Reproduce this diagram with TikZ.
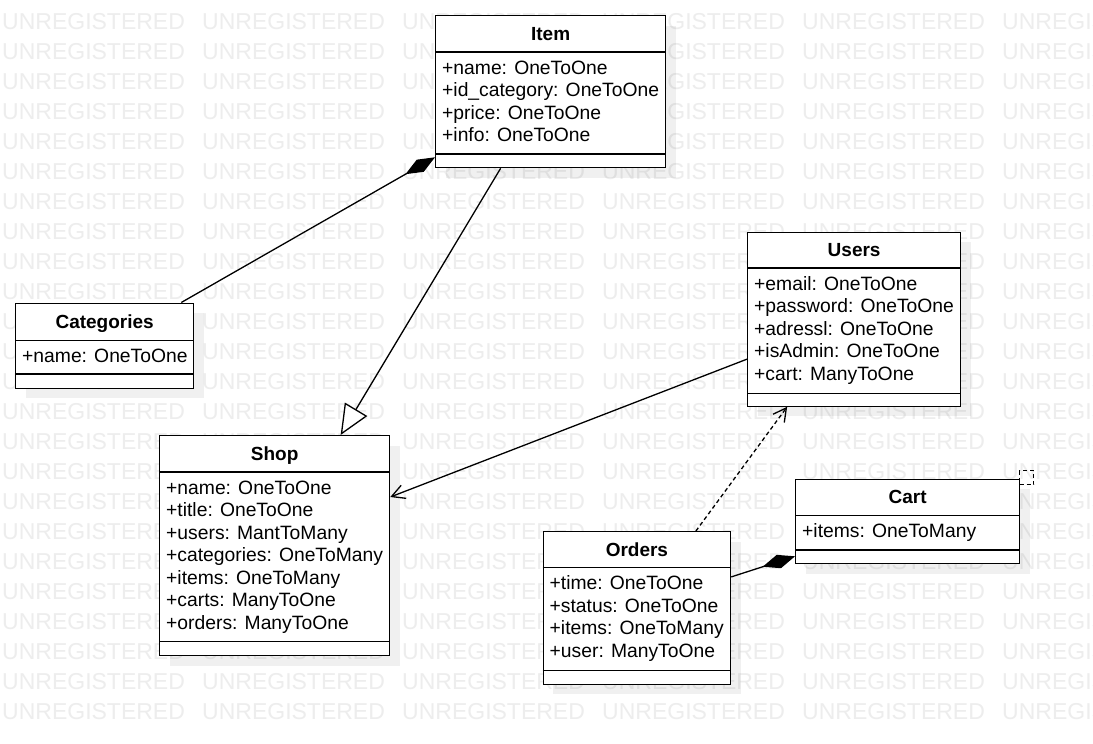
\documentclass[tikz,border=0pt]{standalone}
\usepackage{fontspec}
\setmainfont{Liberation Sans}
\usetikzlibrary{arrows.meta,shadows}
\definecolor{wmgray}{HTML}{EDEDED}

\begin{document}
\begin{tikzpicture}[
    x=1pt, y=-1pt,
    watermark/.style={text=wmgray, font=\fontsize{23}{23}\selectfont, inner sep=0pt, anchor=base west},
    classbox/.style={draw, line width=1.3pt, fill=white, anchor=north west, inner sep=0pt,
      drop shadow={shadow xshift=10pt, shadow yshift=-10pt, fill=black, opacity=0.06}},
    separator/.style={line width=1.3pt},
    classname/.style={font=\fontsize{19}{22}\selectfont\bfseries, inner sep=0pt, anchor=base},
    attr/.style={font=\fontsize{19.3}{22}\selectfont, inner sep=0pt, anchor=base west},
    composition/.style={line width=1.3pt, -{Diamond[length=34pt, width=14pt]}},
    inherit/.style={line width=1.3pt, -{Triangle[open, length=30pt, width=26pt, fill=white]}},
    assoc/.style={line width=1.3pt, -{Straight Barb[length=13pt, width=14pt]}},
    depend/.style={assoc, dash pattern=on 4pt off 3pt}
  ]
  \useasboundingbox[fill=white] (0,0) rectangle (1093,744);

  % Watermark
  \foreach \r in {0,...,23}
    \foreach \c in {0,...,5}
      \node[watermark] (wm-\r-\c) at (2+200*\c, 29+30*\r) {UNREGISTERED};

  % Item
  \node[classbox, minimum width=230pt, minimum height=152pt] (item) at (435,15) {};
  \draw[separator] ([yshift=-37pt]item.north west) -- ([yshift=-37pt]item.north east);
  \draw[separator] ([yshift=-139pt]item.north west) -- ([yshift=-139pt]item.north east);
  \node[classname] (item-name) at ([yshift=-25pt]item.north) {Item};
  \foreach \a [count=\i] in {+name: OneToOne, +id\_category: OneToOne, +price: OneToOne, +info: OneToOne}
    \node[attr] (item-\i) at ([xshift=7pt, yshift={-59.3pt-22.5pt*(\i-1)}]item.north west) {\a};

  % Categories
  \node[classbox, minimum width=178pt, minimum height=85pt] (categories) at (15,302.5) {};
  \draw[separator] ([yshift=-38pt]categories.north west) -- ([yshift=-38pt]categories.north east);
  \draw[separator] ([yshift=-71.5pt]categories.north west) -- ([yshift=-71.5pt]categories.north east);
  \node[classname] (categories-name) at ([yshift=-25.5pt]categories.north) {Categories};
  \node[attr] (categories-1) at ([xshift=7pt, yshift=-60.3pt]categories.north west) {+name: OneToOne};

  % Users
  \node[classbox, minimum width=213pt, minimum height=174pt] (users) at (747,231.5) {};
  \draw[separator] ([yshift=-36.5pt]users.north west) -- ([yshift=-36.5pt]users.north east);
  \draw[separator] ([yshift=-162pt]users.north west) -- ([yshift=-162pt]users.north east);
  \node[classname] (users-name) at ([yshift=-25pt]users.north) {Users};
  \foreach \a [count=\i] in {+email: OneToOne, +password: OneToOne, +adressl: OneToOne, +isAdmin: OneToOne, +cart: ManyToOne}
    \node[attr] (users-\i) at ([xshift=7pt, yshift={-58.8pt-22.5pt*(\i-1)}]users.north west) {\a};

  % Shop
  \node[classbox, minimum width=230pt, minimum height=220pt] (shop) at (159,435) {};
  \draw[separator] ([yshift=-37pt]shop.north west) -- ([yshift=-37pt]shop.north east);
  \draw[separator] ([yshift=-206.5pt]shop.north west) -- ([yshift=-206.5pt]shop.north east);
  \node[classname] (shop-name) at ([yshift=-25pt]shop.north) {Shop};
  \foreach \a [count=\i] in {+name: OneToOne, +title: OneToOne, +users: MantToMany, +categories: OneToMany, +items: OneToMany, +carts: ManyToOne, +orders: ManyToOne}
    \node[attr] (shop-\i) at ([xshift=7pt, yshift={-59.3pt-22.5pt*(\i-1)}]shop.north west) {\a};

  % Cart (with its dashed corner mark)
  \node[draw, line width=1.3pt, dash pattern=on 4pt off 3pt, anchor=north west, inner sep=0pt, minimum size=14pt] (cart-mark) at (1019,470) {};
  \node[classbox, minimum width=224pt, minimum height=84.5pt] (cart) at (795,478.5) {};
  \draw[separator] ([yshift=-37pt]cart.north west) -- ([yshift=-37pt]cart.north east);
  \draw[separator] ([yshift=-71.5pt]cart.north west) -- ([yshift=-71.5pt]cart.north east);
  \node[classname] (cart-name) at ([yshift=-25pt]cart.north) {Cart};
  \node[attr] (cart-1) at ([xshift=7pt, yshift=-59.3pt]cart.north west) {+items: OneToMany};

  % Orders
  \node[classbox, minimum width=187.5pt, minimum height=152.5pt] (orders) at (542.5,531) {};
  \draw[separator] ([yshift=-36.5pt]orders.north west) -- ([yshift=-36.5pt]orders.north east);
  \draw[separator] ([yshift=-139.5pt]orders.north west) -- ([yshift=-139.5pt]orders.north east);
  \node[classname] (orders-name) at ([yshift=-25pt]orders.north) {Orders};
  \foreach \a [count=\i] in {+time: OneToOne, +status: OneToOne, +items: OneToMany, +user: ManyToOne}
    \node[attr] (orders-\i) at ([xshift=7pt, yshift={-58.8pt-22.5pt*(\i-1)}]orders.north west) {\a};

  % Relations
  \draw[composition] ([xshift=-13pt]categories.north east) -- ([yshift=11pt]item.south west);
  \draw[inherit] ([xshift=-50pt]item.south) -- ([xshift=66pt]shop.north);
  \draw[assoc] ([yshift=-40pt]users.west) -- ([yshift=-62pt]shop.north east);
  \draw[depend] ([xshift=59pt]orders.north) -- ([xshift=-67pt]users.south);
  \draw[composition] ([yshift=31pt]orders.east) -- ([yshift=8pt]cart.south west);

\end{tikzpicture}
\end{document}
